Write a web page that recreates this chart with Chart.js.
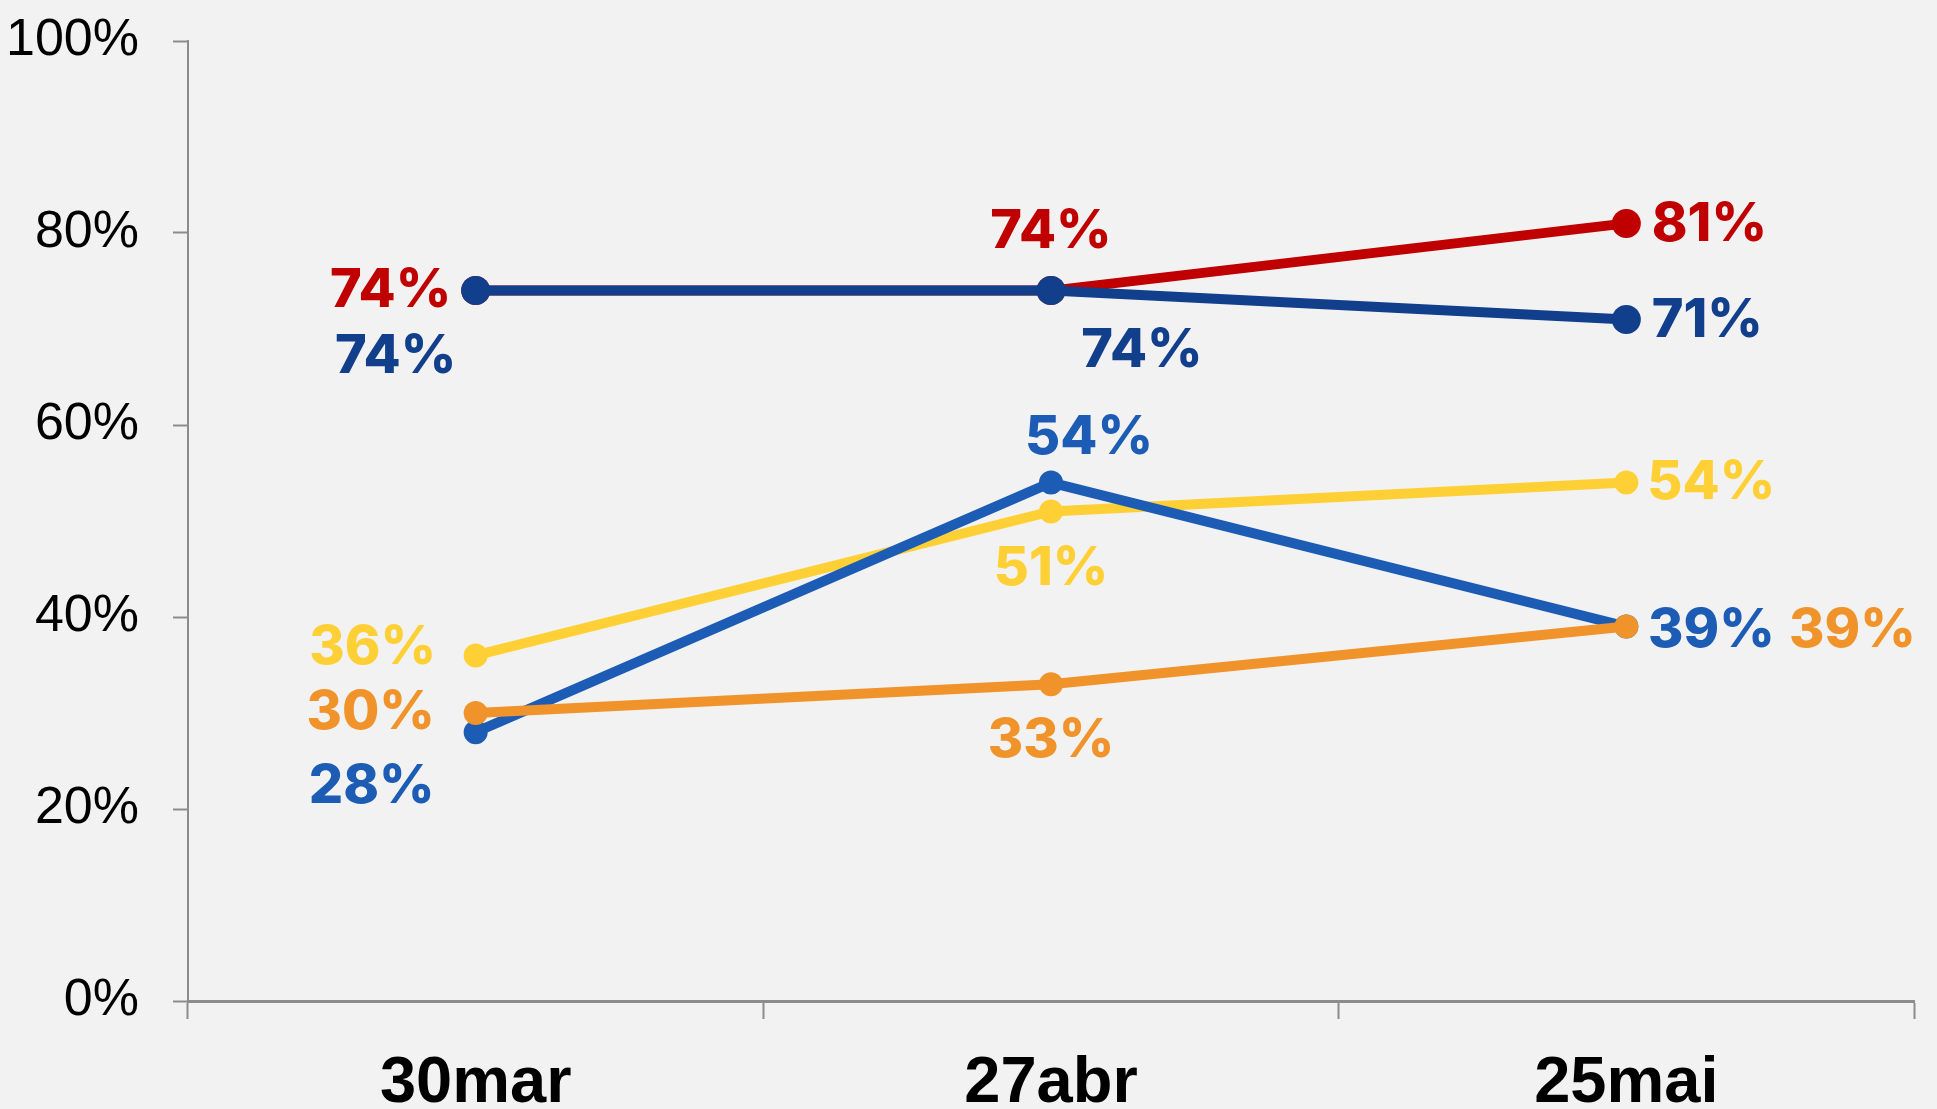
<!DOCTYPE html>
<html>
<head>
<meta charset="utf-8">
<script src="https://cdn.jsdelivr.net/npm/chart.js@4.4.1/dist/chart.umd.min.js"></script>
<style>
    html, body { margin: 0; padding: 0; background: #f2f2f2; }
    canvas { display: block; }
</style>
</head>
<body>
<canvas id="trendChart" width="1937" height="1109"></canvas>
<script>
const dates = ['30mar', '27abr', '25mai'];
const yTicks = [0, 20, 40, 60, 80, 100];

const redValues = [74, 74, 81];
const navyValues = [74, 74, 71];
const yellowValues = [36, 51, 54];
const blueValues = [28, 54, 39];
const orangeValues = [30, 33, 39];

const palette = {
    red: '#c00000',
    navy: '#123f8c',
    yellow: '#ffd035',
    blue: '#1c5cb5',
    orange: '#f0932a',
    axis: '#8c8c8c'
};

// label offsets from each point, in pixels [dx, dy]
const redOffsets = [[-85, 0], [0, -59], [83, 1]];
const navyOffsets = [[-80, 66], [91, 60], [81, 1]];
const yellowOffsets = [[-103, -8], [0, 57], [85, 0]];
const blueOffsets = [[-104, 55], [38, -45], [85, 4]];
const orangeOffsets = [[-105, 0], [0, 57], [226, 4]];

const valueLabels = {
    id: 'valueLabels',
    afterDatasetsDraw(chart) {
        const ctx = chart.ctx;
        ctx.save();
        ctx.font = '800 54px Inter, "Open Sans", sans-serif';
        ctx.textAlign = 'center';
        ctx.textBaseline = 'middle';
        chart.data.datasets.forEach((ds, i) => {
            const meta = chart.getDatasetMeta(i);
            meta.data.forEach((pt, j) => {
                const off = ds.labelOffsets[j];
                ctx.fillStyle = ds.borderColor;
                ctx.fillText(ds.data[j] + '%', pt.x + off[0], pt.y + off[1]);
            });
        });
        ctx.restore();
    }
};

function series(label, data, color, radius, order, offsets) {
    return {
        label,
        data,
        borderColor: color,
        backgroundColor: color,
        pointBackgroundColor: color,
        pointBorderWidth: 0,
        pointRadius: radius,
        borderWidth: 10,
        tension: 0,
        order,
        labelOffsets: offsets
    };
}

new Chart(document.getElementById('trendChart'), {
    type: 'line',
    data: {
        labels: dates,
        datasets: [
            series('red', redValues, palette.red, 14.5, 5, redOffsets),
            series('navy', navyValues, palette.navy, 14.5, 4, navyOffsets),
            series('yellow', yellowValues, palette.yellow, 12, 3, yellowOffsets),
            series('blue', blueValues, palette.blue, 12, 2, blueOffsets),
            series('orange', orangeValues, palette.orange, 12, 1, orangeOffsets)
        ]
    },
    options: {
        responsive: false,
        animation: false,
        layout: { padding: { top: 41, right: 23, left: 0, bottom: 0 } },
        plugins: {
            legend: { display: false },
            tooltip: { enabled: false }
        },
        scales: {
            x: {
                offset: true,
                grid: {
                    offset: true,
                    drawOnChartArea: false,
                    drawTicks: true,
                    tickLength: 18,
                    tickWidth: 2,
                    tickColor: palette.axis
                },
                border: { color: palette.axis, width: 3 },
                ticks: {
                    color: '#000',
                    padding: 26,
                    font: { family: '"Liberation Sans", Arial, sans-serif', size: 65, weight: 'bold' }
                },
                afterFit(scale) {
                    scale.height = 108;
                    scale.paddingLeft = 0;
                    scale.paddingRight = 0;
                }
            },
            y: {
                min: 0,
                max: 100,
                afterBuildTicks(scale) { scale.ticks = yTicks.map((v) => ({ value: v })); },
                grid: {
                    drawOnChartArea: false,
                    drawTicks: true,
                    tickLength: 15,
                    tickWidth: 2,
                    tickColor: palette.axis
                },
                border: { color: palette.axis, width: 2 },
                ticks: {
                    color: '#000',
                    padding: 34,
                    font: { family: '"Liberation Sans", Arial, sans-serif', size: 52 },
                    callback: (v) => v + '%'
                },
                afterFit(scale) {
                    scale.width = 188;
                    scale.paddingTop = 0;
                    scale.paddingBottom = 0;
                }
            }
        }
    },
    plugins: [valueLabels]
});
</script>
</body>
</html>
